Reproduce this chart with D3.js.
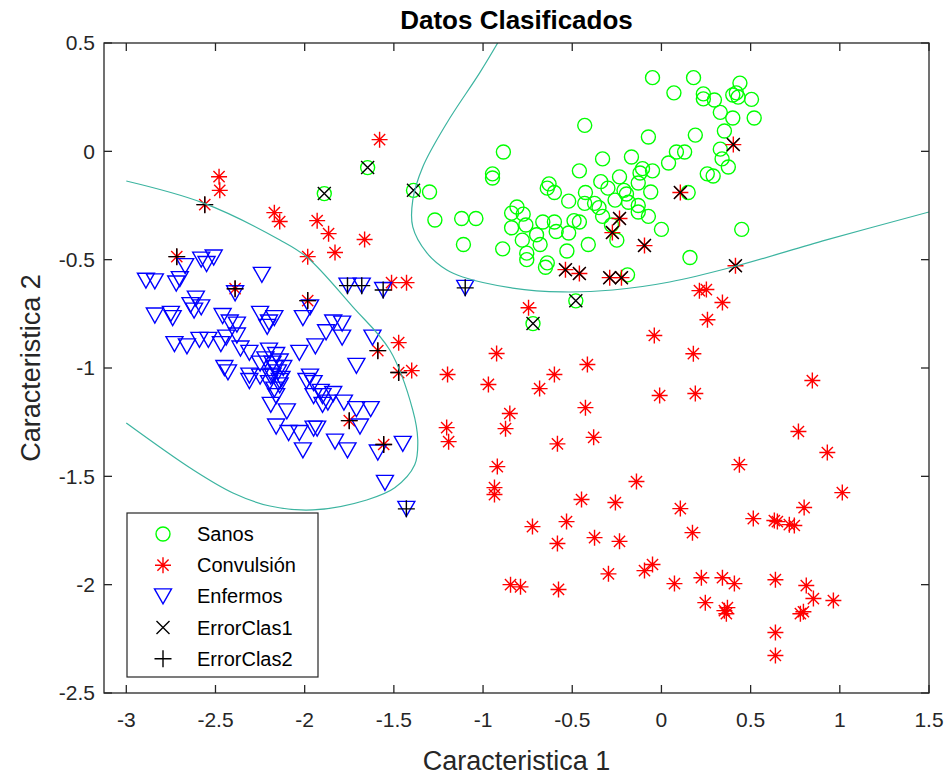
<!DOCTYPE html>
<html>
<head>
<meta charset="utf-8">
<script src="https://cdn.jsdelivr.net/npm/d3@7"></script>
<style>
    body { margin: 0; background: #fff; }
    text { font-family: "Liberation Sans", Arial, sans-serif; fill: #262626; }
</style>
</head>
<body>
<svg id="chart" width="952" height="776"></svg>
<script>

// ---- data ----
let sanos = [
    [0.18,0.34],[0.07,0.27],[0.235,0.265],[0.235,0.242],[0.297,0.237],[0.33,0.18],[0.40,0.26],[0.44,0.315],
    [0.42,0.27],[0.43,0.25],[0.505,0.24],[0.52,0.154],[0.40,0.154],[0.353,0.094],[0.19,0.075],[0.33,0.01],
    [0.084,-0.003],[0.13,-0.003],[0.04,-0.054],[0.34,-0.035],[0.375,-0.072],[0.257,-0.104],[0.29,-0.114],
    [0.15,-0.19],[0.0,-0.36],[0.45,-0.36],[0.16,-0.49],
    [-0.05,0.34],[-0.43,0.12],[-0.073,0.066],[-0.886,-0.003],[-0.33,-0.035],[-0.168,-0.026],[-0.46,-0.09],
    [-0.106,-0.08],[-0.05,-0.09],[-0.12,-0.10],[-0.947,-0.104],[-0.947,-0.123],[-0.235,-0.118],[-0.34,-0.14],
    [-0.63,-0.15],[-0.30,-0.17],[-0.13,-0.146],[-0.06,-0.188],[-0.64,-0.17],[-0.60,-0.19],[-1.30,-0.188],
    [-0.21,-0.18],[-0.196,-0.197],[-0.426,-0.19],[-0.26,-0.225],[-0.52,-0.23],[-0.43,-0.24],[-0.375,-0.24],
    [-0.35,-0.26],[-0.13,-0.25],[-0.81,-0.257],[-0.13,-0.28],[-1.27,-0.317],[-1.12,-0.31],[-1.04,-0.31],
    [-0.84,-0.285],[-0.775,-0.29],[-0.073,-0.30],[-0.49,-0.32],[-0.46,-0.326],[-0.60,-0.326],[-0.665,-0.326],
    [-0.33,-0.30],[-0.28,-0.34],[-0.84,-0.353],[-0.76,-0.34],[-0.59,-0.37],[-0.52,-0.377],[-0.25,-0.41],
    [-0.70,-0.385],[-0.78,-0.41],[-0.68,-0.43],[-1.11,-0.43],[-0.41,-0.43],[-0.89,-0.45],[-0.53,-0.46],
    [-0.755,-0.47],[-0.755,-0.50],[-0.64,-0.515],[-0.65,-0.535],[-0.185,-0.235],[-0.19,-0.57],
    [-1.89,-0.195],[-1.647,-0.075],[-1.39,-0.18],[-0.48,-0.69],[-0.72,-0.795]
];

let convulsion = [
    [-1.58,0.054],[-2.48,-0.117],[-2.476,-0.18],[-2.56,-0.246],[-2.17,-0.283],[-2.14,-0.324],[-1.93,-0.32],
    [-1.866,-0.38],[-1.83,-0.467],[-1.664,-0.407],[-1.983,-0.486],[-2.717,-0.486],[-2.39,-0.634],[-1.983,-0.689],
    [-1.59,-0.92],[-1.75,-1.243],[-1.557,-1.353],[-1.473,-1.021],[-1.513,-0.606],[-1.429,-0.606],[-0.745,-0.722],
    [-1.473,-0.883],[-1.40,-1.012],[-0.924,-0.933],[-1.199,-1.03],[-0.97,-1.076],[-0.60,-1.03],[-0.415,-0.984],
    [-0.683,-1.095],[-0.04,-0.85],[-0.01,-1.127],[-0.426,-1.183],[-0.85,-1.21],[-0.874,-1.28],[-0.38,-1.32],
    [-0.583,-1.35],[-1.204,-1.275],[-1.193,-1.34],[-0.92,-1.455],[-0.936,-1.552],[-0.936,-1.584],[-0.14,-1.524],
    [-0.448,-1.607],[-0.258,-1.621],[-0.723,-1.732],[-0.532,-1.709],[-0.583,-1.81],[-0.375,-1.783],[-0.235,-1.8],
    [-0.297,-1.95],[-0.095,-1.935],[-0.05,-1.907],[-0.846,-2.0],[-0.79,-2.01],[-0.577,-2.022],
    [0.437,-1.446],[1.014,-1.575],[0.106,-1.649],[0.174,-1.76],[0.515,-1.695],[0.633,-1.704],[0.65,-1.709],
    [0.717,-1.723],[0.745,-1.727],[0.80,-1.644],[0.073,-1.995],[0.224,-1.968],[0.342,-1.968],[0.409,-1.995],
    [0.639,-1.977],[0.812,-2.004],[0.852,-2.064],[0.964,-2.073],[0.246,-2.083],[0.353,-2.12],[0.37,-2.106],
    [0.364,-2.134],[0.779,-2.134],[0.796,-2.125],[0.639,-2.221],[0.639,-2.327],
    [0.213,-0.643],[0.252,-0.638],[0.342,-0.698],[0.258,-0.777],[0.179,-0.934],[0.19,-1.118],[0.846,-1.058],
    [0.768,-1.293],[0.93,-1.39],
    [0.106,-0.19],[0.403,0.031],[0.415,-0.528],[-0.235,-0.31],[-0.275,-0.375],[-0.095,-0.435],
    [-0.538,-0.546],[-0.46,-0.564],[-0.29,-0.583],[-0.224,-0.583]
];

let enfermos = [
    [-2.58,-0.50],[-2.51,-0.49],[-2.55,-0.52],[-2.67,-0.53],[-2.70,-0.59],[-2.72,-0.61],[-2.89,-0.597],
    [-2.84,-0.60],[-2.24,-0.57],[-2.39,-0.655],[-2.61,-0.68],[-2.64,-0.71],[-2.58,-0.72],[-2.62,-0.735],
    [-2.84,-0.758],[-2.75,-0.75],[-2.74,-0.77],[-2.46,-0.76],[-2.42,-0.79],[-2.38,-0.80],[-2.25,-0.75],
    [-2.20,-0.79],[-2.17,-0.77],[-2.21,-0.81],[-2.01,-0.77],[-2.73,-0.89],[-2.66,-0.90],[-2.59,-0.87],
    [-2.54,-0.87],[-2.47,-0.89],[-2.44,-0.86],[-2.38,-0.85],[-2.36,-0.91],[-2.31,-0.93],[-2.20,-0.92],
    [-2.16,-0.94],[-2.22,-0.96],[-2.18,-0.98],[-2.14,-0.97],[-2.25,-0.98],[-2.03,-0.93],[-1.94,-0.90],
    [-1.88,-0.835],[-1.84,-0.79],[-2.45,-1.00],[-2.43,-1.02],[-2.31,-1.035],[-2.31,-1.06],[-2.25,-1.04],
    [-2.18,-1.035],[-2.14,-1.06],[-2.20,-1.07],[-2.17,-1.10],[-2.16,-1.13],[-2.19,-1.17],[-2.10,-1.20],
    [-1.97,-1.04],[-1.99,-1.06],[-1.95,-1.13],[-1.90,-1.13],[-1.90,-1.17],[-2.16,-1.27],[-2.09,-1.30],
    [-2.03,-1.30],[-1.95,-1.28],[-2.17,-1.00],[-2.15,-1.02],[-2.13,-1.05],[-2.19,-1.04],[-2.12,-1.00],
    [-2.14,-1.08],[-1.97,-0.72],[-1.79,-0.795],[-1.79,-0.86],[-1.71,-0.99],[-1.62,-0.86],[-1.95,-1.07],
    [-1.91,-1.11],[-1.84,-1.12],[-1.87,-1.16],[-1.78,-1.16],[-1.71,-1.19],[-1.63,-1.19],[-1.69,-1.27],
    [-1.93,-1.28],[-1.83,-1.34],[-1.76,-1.38],[-1.59,-1.39],[-2.01,-1.38],[-1.45,-1.35],[-1.55,-1.53],
    [-1.76,-0.62],[-1.68,-0.62],[-1.56,-0.64],[-1.10,-0.63],[-1.43,-1.65]
];

// mal clasificados
let errorClas1 = [
    [-1.89,-0.195],[-1.647,-0.075],[-1.39,-0.18],[-0.48,-0.69],[-0.72,-0.795],
    [0.106,-0.19],[0.403,0.031],[0.415,-0.528],[-0.235,-0.31],[-0.275,-0.375],[-0.095,-0.435],
    [-0.538,-0.546],[-0.46,-0.564],[-0.29,-0.583],[-0.224,-0.583]
];
let errorClas2 = [
    [-2.56,-0.246],[-2.717,-0.486],[-2.39,-0.634],[-1.983,-0.689],[-1.59,-0.92],[-1.75,-1.243],
    [-1.557,-1.353],[-1.473,-1.021],
    [-1.76,-0.62],[-1.68,-0.62],[-1.56,-0.64],[-1.10,-0.63],[-1.43,-1.65]
];

// fronteras de decision
let frontera1 = [
    [-3.0,-0.137],[-2.57,-0.238],[-2.139,-0.409],[-1.988,-0.488],[-1.73,-0.718],[-1.523,-0.917],
    [-1.394,-1.194],[-1.366,-1.332],[-1.383,-1.447],[-1.495,-1.553],[-1.652,-1.609],[-1.954,-1.655],
    [-2.195,-1.637],[-2.402,-1.577],[-2.626,-1.47],[-3.0,-1.254]
];
let frontera2 = [
    [-0.918,0.5],[-1.019,0.362],[-1.203,0.131],[-1.338,-0.072],[-1.394,-0.225],[-1.394,-0.349],
    [-1.315,-0.469],[-1.203,-0.548],[-1.114,-0.58],[-0.834,-0.631],[-0.554,-0.649],[-0.273,-0.64],
    [0.046,-0.603],[0.399,-0.534],[0.925,-0.409],[1.5,-0.28]
];

let xTicks = [-3, -2.5, -2, -1.5, -1, -0.5, 0, 0.5, 1, 1.5];
let yTicks = [-2.5, -2, -1.5, -1, -0.5, 0, 0.5];
let legendNames = ["Sanos", "Convulsión", "Enfermos", "ErrorClas1", "ErrorClas2"];

// ---- layout ----
const svg = d3.select("#chart");
const boxLeft = 104, boxRight = 929, boxTop = 43, boxBottom = 693;
const axisColor = "#262626";

const x = d3.scaleLinear().domain([-3.125, 1.5]).range([boxLeft, boxRight]);
const y = d3.scaleLinear().domain([-2.5, 0.5]).range([boxBottom, boxTop]);

svg.append("defs").append("clipPath").attr("id", "clip")
    .append("rect").attr("x", boxLeft).attr("y", boxTop)
    .attr("width", boxRight - boxLeft).attr("height", boxBottom - boxTop);

// marker shapes (MATLAB style)
function markerPath(kind, cx, cy) {
    let p = d3.path();
    if (kind === "o") {
        p.moveTo(cx + 7, cy);
        p.arc(cx, cy, 7, 0, 2 * Math.PI);
    } else if (kind === "v") {
        p.moveTo(cx - 8.5, cy - 7.5);
        p.lineTo(cx + 8.5, cy - 7.5);
        p.lineTo(cx, cy + 7.5);
        p.closePath();
    } else if (kind === "*") {
        let r = 8, d = 5.6;
        p.moveTo(cx - r, cy); p.lineTo(cx + r, cy);
        p.moveTo(cx, cy - r); p.lineTo(cx, cy + r);
        p.moveTo(cx - d, cy - d); p.lineTo(cx + d, cy + d);
        p.moveTo(cx - d, cy + d); p.lineTo(cx + d, cy - d);
    } else if (kind === "x") {
        let d = 6.5;
        p.moveTo(cx - d, cy - d); p.lineTo(cx + d, cy + d);
        p.moveTo(cx - d, cy + d); p.lineTo(cx + d, cy - d);
    } else if (kind === "+") {
        let r = 8.5;
        p.moveTo(cx - r, cy); p.lineTo(cx + r, cy);
        p.moveTo(cx, cy - r); p.lineTo(cx, cy + r);
    }
    return p.toString();
}

let series = [
    {name: legendNames[0], data: sanos, kind: "o", color: "#00ff00"},
    {name: legendNames[1], data: convulsion, kind: "*", color: "#ff0000"},
    {name: legendNames[2], data: enfermos, kind: "v", color: "#0000ff"},
    {name: legendNames[3], data: errorClas1, kind: "x", color: "#000000"},
    {name: legendNames[4], data: errorClas2, kind: "+", color: "#000000"}
];

const plot = svg.append("g").attr("clip-path", "url(#clip)");

series.forEach(function(s) {
    plot.append("g")
        .selectAll("path")
        .data(s.data)
        .join("path")
        .attr("d", d => markerPath(s.kind, x(d[0]), y(d[1])))
        .attr("fill", "none")
        .attr("stroke", s.color)
        .attr("stroke-width", 1.4);
});

// curvas de frontera
const line = d3.line().x(d => x(d[0])).y(d => y(d[1])).curve(d3.curveCatmullRom);
[frontera1, frontera2].forEach(function(f) {
    plot.append("path")
        .attr("d", line(f))
        .attr("fill", "none")
        .attr("stroke", "#3cb4a0")
        .attr("stroke-width", 1.2);
});

// ---- axes box with ticks on all sides ----
const axes = svg.append("g");
axes.append("rect")
    .attr("x", boxLeft).attr("y", boxTop).attr("width", boxRight - boxLeft).attr("height", boxBottom - boxTop)
    .attr("fill", "none").attr("stroke", axisColor).attr("stroke-width", 1.3);

const tickLen = 8;
xTicks.forEach(function(t) {
    axes.append("line").attr("x1", x(t)).attr("x2", x(t)).attr("y1", boxBottom).attr("y2", boxBottom - tickLen)
        .attr("stroke", axisColor).attr("stroke-width", 1.3);
    axes.append("line").attr("x1", x(t)).attr("x2", x(t)).attr("y1", boxTop).attr("y2", boxTop + tickLen)
        .attr("stroke", axisColor).attr("stroke-width", 1.3);
    axes.append("text").attr("x", x(t)).attr("y", boxBottom + 34)
        .attr("text-anchor", "middle").style("font-size", "21px").text(t);
});
yTicks.forEach(function(t) {
    axes.append("line").attr("x1", boxLeft).attr("x2", boxLeft + tickLen).attr("y1", y(t)).attr("y2", y(t))
        .attr("stroke", axisColor).attr("stroke-width", 1.3);
    axes.append("line").attr("x1", boxRight).attr("x2", boxRight - tickLen).attr("y1", y(t)).attr("y2", y(t))
        .attr("stroke", axisColor).attr("stroke-width", 1.3);
    axes.append("text").attr("x", boxLeft - 9).attr("y", y(t)).attr("dy", "0.35em")
        .attr("text-anchor", "end").style("font-size", "21px").text(t);
});

// titles
svg.append("text").attr("x", (boxLeft + boxRight) / 2).attr("y", 29)
    .attr("text-anchor", "middle").style("font-size", "26px").style("font-weight", "bold")
    .style("fill", "#000").text("Datos Clasificados");
svg.append("text").attr("x", (boxLeft + boxRight) / 2).attr("y", 770)
    .attr("text-anchor", "middle").style("font-size", "27px").text("Caracteristica 1");
svg.append("text")
    .attr("transform", "translate(" + 40 + "," + ((boxTop + boxBottom) / 2) + ") rotate(-90)")
    .attr("text-anchor", "middle").style("font-size", "27px").text("Caracteristica 2");

// ---- legend ----
const leg = svg.append("g");
leg.append("rect").attr("x", 127).attr("y", 513).attr("width", 191).attr("height", 164)
    .attr("fill", "#fff").attr("stroke", axisColor).attr("stroke-width", 1.2);
series.forEach(function(s, i) {
    let ly = 534 + i * 31.2;
    leg.append("path").attr("d", markerPath(s.kind, 163, ly))
        .attr("fill", "none").attr("stroke", s.color).attr("stroke-width", 1.4);
    leg.append("text").attr("x", 197).attr("y", ly).attr("dy", "0.35em")
        .style("font-size", "20px").style("fill", "#000").text(s.name);
});

</script>
</body>
</html>
